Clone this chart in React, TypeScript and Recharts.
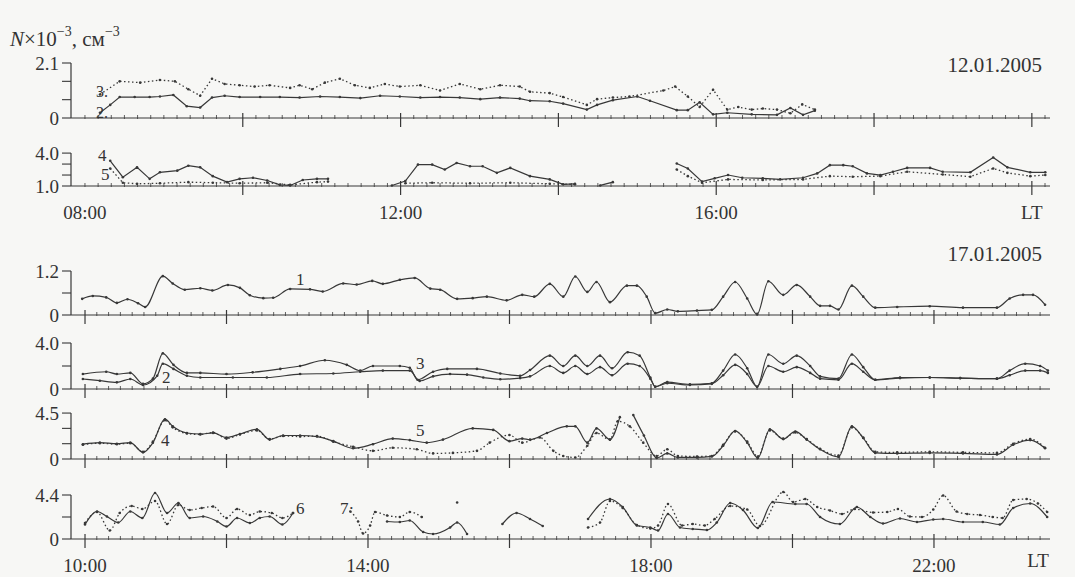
import React from 'react';
import { LineChart, Line, XAxis, YAxis, ReferenceLine } from 'recharts';

const INK = '#383838';
const FONT = '"Liberation Serif", "Times New Roman", serif';

// ---------- 12.01.2005 (hours LT) ----------
const tA2 = [8.19, 8.32, 8.44, 8.63, 8.82, 8.95, 9.12, 9.29, 9.46, 9.61, 9.77, 9.96, 10.22, 10.47, 10.72, 10.98, 11.23, 11.49, 11.74, 11.99, 12.25, 12.5, 12.75, 13.01, 13.26, 13.51, 13.64, 13.89, 14.06, 14.36, 14.49, 14.69, 15.0, 15.16, 15.5, 15.64, 15.79, 15.96, 16.14, 16.45, 16.77, 16.94, 17.1, 17.25];
const vA2 = [0.2, 0.5, 0.8, 0.8, 0.8, 0.82, 0.88, 0.45, 0.4, 0.78, 0.85, 0.8, 0.8, 0.8, 0.78, 0.82, 0.8, 0.76, 0.85, 0.82, 0.78, 0.8, 0.78, 0.72, 0.78, 0.74, 0.66, 0.64, 0.55, 0.32, 0.5, 0.68, 0.82, 0.66, 0.3, 0.3, 0.6, 0.14, 0.2, 0.14, 0.12, 0.38, 0.12, 0.28];

const tA3 = [8.19, 8.44, 8.7, 8.95, 9.14, 9.31, 9.46, 9.61, 9.77, 9.96, 10.15, 10.34, 10.6, 10.72, 10.88, 11.04, 11.23, 11.42, 11.61, 11.8, 11.99, 12.25, 12.5, 12.75, 13.01, 13.26, 13.51, 13.64, 13.89, 14.06, 14.36, 14.49, 14.69, 14.9, 15.33, 15.48, 15.64, 15.79, 15.96, 16.14, 16.28, 16.45, 16.59, 16.77, 16.94, 17.09, 17.25];
const vA3 = [0.9, 1.4, 1.35, 1.45, 1.4, 1.1, 0.85, 1.5, 1.3, 1.25, 1.2, 1.25, 1.15, 1.25, 1.1, 1.35, 1.5, 1.25, 1.15, 1.3, 1.2, 1.25, 1.05, 1.3, 1.1, 1.25, 1.2, 1.0, 0.95, 0.8, 0.5, 0.72, 0.78, 0.82, 1.05, 1.2, 0.82, 0.42, 1.08, 0.32, 0.42, 0.32, 0.36, 0.32, 0.18, 0.52, 0.32];

const tB4 = [8.32, 8.48, 8.66, 8.82, 8.95, 9.17, 9.31, 9.46, 9.62, 9.8, 9.96, 10.13, 10.31, 10.47, 10.6, 10.76, 10.94, 11.08, 11.5, 11.89, 12.06, 12.22, 12.4, 12.56, 12.71, 12.88, 13.04, 13.22, 13.39, 13.64, 13.89, 14.06, 14.21, 14.4, 14.53, 14.69, 15.1, 15.5, 15.64, 15.82, 15.98, 16.15, 16.33, 16.59, 16.81, 17.1, 17.28, 17.44, 17.61, 17.73, 17.91, 18.08, 18.24, 18.42, 18.71, 18.87, 19.22, 19.51, 19.69, 19.98, 20.17];
const vB4 = [3.3, 1.8, 2.7, 1.65, 2.25, 2.4, 2.85, 2.7, 1.9, 1.35, 1.65, 1.75, 1.5, 1.1, 1.05, 1.55, 1.65, 1.65, null, 1.05, 1.45, 2.95, 2.95, 2.5, 3.1, 2.8, 2.8, 2.2, 2.65, 1.9, 1.6, 1.15, 1.2, null, 1.05, 1.35, null, 3.05, 2.6, 1.4, 1.7, 2.0, 1.75, 1.7, 1.6, 1.75, 2.15, 2.9, 2.9, 2.8, 2.15, 2.0, 2.3, 2.65, 2.65, 2.3, 2.25, 3.6, 2.7, 2.25, 2.25];

const tB5 = [8.32, 8.48, 8.66, 8.95, 9.31, 9.62, 9.96, 10.31, 10.6, 10.94, 11.08, 11.5, 12.06, 12.4, 12.88, 13.39, 13.89, 14.21, 14.6, 15.1, 15.5, 15.64, 15.82, 16.15, 16.59, 17.1, 17.44, 17.73, 18.08, 18.42, 18.87, 19.22, 19.51, 19.69, 19.98, 20.17];
const vB5 = [2.6, 1.3, 1.2, 1.25, 1.35, 1.3, 1.25, 1.3, 1.1, 1.35, 1.4, null, 1.25, 1.3, 1.25, 1.3, 1.2, 1.15, null, null, 2.5, 1.9, 1.3, 1.6, 1.55, 1.6, 1.9, 1.85, 1.9, 2.3, 2.05, 1.85, 2.6, 2.2, 1.9, 2.0];

// ---------- 17.01.2005 (hours LT) ----------
const t1 = [9.96, 10.11, 10.3, 10.45, 10.6, 10.75, 10.85, 11.1, 11.24, 11.41, 11.63, 11.8, 12.02, 12.19, 12.33, 12.52, 12.66, 12.9, 13.18, 13.36, 13.65, 13.84, 14.06, 14.21, 14.45, 14.66, 14.88, 15.02, 15.26, 15.48, 15.68, 15.96, 16.18, 16.35, 16.57, 16.76, 16.93, 17.1, 17.23, 17.42, 17.66, 17.8, 17.94, 18.06, 18.23, 18.38, 18.65, 18.86, 19.02, 19.19, 19.36, 19.5, 19.66, 19.87, 20.06, 20.25, 20.39, 20.53, 20.65, 20.84, 21.0, 21.17, 21.48, 21.94, 22.41, 22.89, 23.07, 23.26, 23.4, 23.57];
const v1 = [0.44, 0.52, 0.48, 0.33, 0.43, 0.32, 0.22, 1.06, 0.86, 0.69, 0.73, 0.67, 0.82, 0.74, 0.54, 0.46, 0.47, 0.71, 0.7, 0.64, 0.86, 0.83, 0.93, 0.85, 0.96, 1.01, 0.72, 0.69, 0.44, 0.46, 0.5, 0.4, 0.55, 0.5, 0.85, 0.5, 1.05, 0.63, 0.9, 0.35, 0.8, 0.8, 0.5, 0.05, 0.15, 0.1, 0.12, 0.14, 0.5, 0.9, 0.45, 0.02, 0.92, 0.55, 0.82, 0.5, 0.25, 0.25, 0.15, 0.8, 0.5, 0.2, 0.22, 0.24, 0.2, 0.2, 0.45, 0.55, 0.55, 0.28];

const t2 = [9.97, 10.21, 10.45, 10.64, 10.82, 11.02, 11.1, 11.25, 11.44, 11.63, 12.09, 12.57, 13.04, 13.51, 13.89, 14.21, 14.59, 14.73, 14.92, 15.16, 15.4, 15.63, 15.87, 16.15, 16.29, 16.57, 16.76, 16.93, 17.1, 17.28, 17.45, 17.67, 17.84, 17.99, 18.06, 18.23, 18.55, 18.86, 19.02, 19.19, 19.36, 19.5, 19.66, 19.87, 20.06, 20.25, 20.39, 20.65, 20.84, 21.0, 21.17, 21.52, 21.94, 22.37, 22.89, 23.07, 23.29, 23.5, 23.61];
const v2 = [0.87, 0.72, 0.58, 0.87, 0.35, 1.15, 2.2, 1.75, 1.15, 1.0, 1.0, 1.0, 1.3, 1.35, 1.5, 1.6, 1.6, 0.7, 1.1, 1.3, 1.25, 1.0, 0.85, 0.95, 1.1, 2.0, 1.4, 2.0, 1.3, 1.9, 1.2, 2.2, 2.0, 0.9, 0.2, 0.5, 0.35, 0.45, 1.2, 2.1, 1.3, 0.2, 2.0, 1.5, 1.9, 1.4, 0.9, 0.8, 2.2, 1.5, 0.8, 0.95, 1.0, 0.95, 0.9, 1.2, 1.6, 1.6, 1.4];

const t3 = [9.97, 10.3, 10.45, 10.64, 10.82, 10.96, 11.1, 11.25, 11.44, 11.63, 12.0, 12.37, 12.76, 13.04, 13.39, 13.7, 13.89, 14.07, 14.45, 14.59, 14.7, 14.92, 15.12, 15.54, 15.87, 16.15, 16.29, 16.57, 16.76, 16.93, 17.1, 17.28, 17.45, 17.67, 17.84, 17.99, 18.06, 18.23, 18.55, 18.86, 19.02, 19.19, 19.36, 19.5, 19.66, 19.87, 20.06, 20.25, 20.39, 20.65, 20.84, 21.0, 21.17, 21.52, 21.94, 22.37, 22.89, 23.07, 23.29, 23.5, 23.61];
const v3 = [1.3, 1.5, 1.3, 1.4, 0.45, 0.9, 3.1, 2.1, 1.4, 1.4, 1.3, 1.45, 1.75, 2.0, 2.5, 2.1, 1.6, 2.0, 2.0, 1.85, 0.8, 1.5, 1.75, 1.75, 1.35, 1.15, 1.65, 2.9, 2.0, 2.9, 2.0, 2.9, 1.8, 3.2, 2.9, 1.0, 0.2, 0.6, 0.4, 0.5, 1.6, 3.0, 1.8, 0.2, 3.0, 2.2, 2.9, 2.0, 1.1, 0.9, 3.0, 1.9, 0.8, 1.0, 1.0, 0.95, 0.9, 1.6, 2.2, 2.0, 1.6];

const t4 = [9.97, 10.21, 10.45, 10.64, 10.82, 10.96, 11.13, 11.24, 11.44, 11.63, 11.81, 12.0, 12.19, 12.43, 12.61, 12.8, 13.04, 13.28, 13.51, 13.79, 14.07, 14.35, 14.59, 14.83, 15.06, 15.48, 15.77, 16.0, 16.18, 16.29, 16.53, 16.81, 16.93, 17.1, 17.23, 17.42, 17.56, 17.66, 17.75, 17.9, 18.08, 18.23, 18.38, 18.65, 18.86, 19.02, 19.19, 19.36, 19.51, 19.68, 19.87, 20.04, 20.2, 20.39, 20.65, 20.84, 21.0, 21.17, 21.48, 21.94, 22.41, 22.89, 23.12, 23.36, 23.57];
const v4 = [1.45, 1.6, 1.5, 1.6, 0.65, 1.6, 3.9, 3.2, 2.55, 2.45, 2.55, 2.1, 2.45, 2.9, 1.9, 2.3, 2.3, 2.2, 1.75, 1.05, 1.45, 2.0, 1.85, 1.6, 1.9, 3.0, 2.85, 1.75, 2.0, 1.9, 2.55, 3.2, 3.2, 1.6, 3.0, 1.9, 4.1, null, 4.3, 2.3, 0.1, 0.55, 0.15, 0.15, 0.25, 1.3, 2.75, 1.6, 0.1, 2.9, 1.95, 2.7, 1.9, 0.95, 0.2, 3.2, 2.05, 0.6, 0.55, 0.6, 0.55, 0.45, 1.4, 1.85, 1.05];

const t5 = [9.97, 10.21, 10.45, 10.64, 10.82, 10.96, 11.13, 11.24, 11.44, 11.63, 11.81, 12.0, 12.19, 12.43, 12.61, 12.8, 13.04, 13.28, 13.51, 13.79, 14.07, 14.35, 14.69, 14.92, 15.2, 15.54, 15.72, 16.0, 16.18, 16.43, 16.62, 16.76, 16.93, 17.1, 17.23, 17.42, 17.53, 17.7, 17.89, 18.08, 18.23, 18.38, 18.65, 18.86, 19.02, 19.19, 19.36, 19.51, 19.68, 19.87, 20.04, 20.2, 20.39, 20.65, 20.84, 21.0, 21.17, 21.48, 21.94, 22.41, 22.89, 23.12, 23.36, 23.57];
const v5 = [1.4, 1.55, 1.45, 1.55, 0.7, 1.7, 3.8, 3.1, 2.5, 2.4, 2.6, 2.0, 2.4, 2.8, 1.95, 2.25, 2.2, 2.25, 1.7, 1.2, 0.8, 1.1, 0.95, 0.55, 0.6, 0.8, 1.6, 2.35, 1.6, 2.1, 0.8, 0.3, 0.15, 1.3, 2.55, 1.9, 3.7, 3.2, 1.6, 0.3, 0.95, 0.3, 0.25, 0.3, 1.4, 2.7, 1.7, 0.25, 2.8, 2.0, 2.6, 1.95, 1.0, 0.35, 3.1, 2.1, 0.7, 0.65, 0.7, 0.65, 0.6, 1.5, 1.95, 1.1];

const t6 = [10.0, 10.17, 10.31, 10.47, 10.64, 10.81, 10.99, 11.16, 11.32, 11.48, 11.67, 11.87, 12.0, 12.15, 12.33, 12.47, 12.61, 12.79, 12.94, 13.5, 14.27, 14.45, 14.59, 14.78, 14.92, 15.16, 15.26, 15.4, 15.7, 15.9, 16.1, 16.29, 16.47, 16.8, 17.11, 17.42, 17.6, 17.8, 17.99, 18.1, 18.24, 18.41, 18.59, 18.79, 18.93, 19.12, 19.3, 19.51, 19.72, 20.04, 20.2, 20.39, 20.67, 20.91, 21.1, 21.28, 21.52, 21.76, 21.99, 22.13, 22.41, 22.69, 22.93, 23.12, 23.36, 23.6];
const v6 = [1.45, 2.75, 2.25, 1.65, 2.75, 2.1, 4.6, 2.6, 3.6, 2.1, 2.25, 1.75, 1.25, 2.1, 1.6, 2.1, 2.25, 1.45, 2.6, null, 1.75, 1.7, 1.85, 0.7, 0.5, 1.15, 1.65, 0.5, null, 1.5, 2.6, 2.0, 1.3, null, 2.0, 4.0, 3.2, 1.35, 1.15, 0.85, 2.5, 1.15, 1.0, 0.9, 1.65, 3.6, 2.9, 1.1, 3.7, 3.5, 3.5, 2.2, 1.5, 3.2, 2.2, 1.55, 2.05, 1.7, 1.95, 2.0, 1.7, 1.7, 1.45, 3.1, 3.55, 2.2];

const t7 = [10.0, 10.17, 10.35, 10.49, 10.66, 10.81, 10.99, 11.16, 11.32, 11.48, 11.65, 11.81, 12.0, 12.15, 12.33, 12.47, 12.64, 12.79, 12.94, 13.3, 13.75, 13.86, 13.93, 14.03, 14.1, 14.27, 14.45, 14.59, 14.76, 15.0, 15.26, 15.5, 17.11, 17.28, 17.42, 17.6, 17.8, 17.99, 18.1, 18.24, 18.44, 18.59, 18.76, 18.9, 19.12, 19.36, 19.54, 19.87, 20.01, 20.18, 20.35, 20.53, 20.7, 20.88, 21.14, 21.34, 21.49, 21.66, 21.83, 21.99, 22.13, 22.32, 22.47, 22.65, 22.83, 22.97, 23.12, 23.31, 23.47, 23.6];
const v7 = [1.6, 2.7, 0.85, 2.6, 3.3, 3.0, 3.8, 1.5, 3.4, 2.9, 3.1, 3.25, 2.1, 3.0, 2.4, 2.75, 2.6, 2.1, 2.6, null, 2.75, 1.75, 0.55, 1.35, 2.7, 2.35, 2.2, 2.7, 2.2, null, 3.65, null, 1.15, 1.65, 3.8, 3.1, 1.4, 1.05, 1.35, 3.5, 1.35, 1.5, 1.35, 2.0, 3.3, 2.95, 1.3, 4.7, 3.7, 4.0, 3.2, 2.85, 2.5, 3.0, 2.65, 2.7, 3.0, 2.25, 2.2, 2.95, 4.35, 2.75, 2.5, 2.4, 2.2, 2.1, 3.9, 4.0, 3.55, 2.7];

// axis tick values
const topMajors = [10, 12, 14, 16, 18, 20];
const topLabels: [number, string][] = [[8, '08:00'], [12, '12:00'], [16, '16:00'], [20, 'LT']];
const botMajors = [10, 12, 14, 16, 18, 20, 22];
const botLabels: [number, string][] = [[10, '10:00'], [14, '14:00'], [18, '18:00'], [22, '22:00']];

const zip = (t: number[], v: (number | null)[]) => t.map((x, i) => ({ t: x, v: v[i] }));

const tenMinuteTicks = (h0: number, h1: number) => {
  const out: number[] = [];
  for (let m = Math.round(h0 * 60); m <= h1 * 60; m += 10) out.push(m / 60);
  return out;
};

type Series = { t: number[]; v: (number | null)[]; dotted?: boolean };

interface PanelProps {
  top: number;
  bottom: number;
  yDomain: [number, number];
  yTicks: number[];
  yLabels: [number, string][];
  xDomain: [number, number];
  xTicks: number[];
  majors: number[];
  labels: [number, string][];
  showLabels: boolean;
  curve: 'linear' | 'monotone';
  series: Series[];
}

const PAD = 14; // room above the plot so the top tick label is not clipped

function Panel(p: PanelProps) {
  const axisH = p.showLabels ? 44 : 14;
  const height = p.bottom - p.top + axisH + PAD;
  const yTop = p.yLabels[p.yLabels.length - 1][0];

  const xTick = (props: any) => {
    const { x, y, payload } = props;
    const val = payload.value as number;
    const major = p.majors.some((m) => Math.abs(m - val) < 1e-6);
    const lab = p.labels.find((l) => Math.abs(l[0] - val) < 1e-6);
    return (
      <g>
        {major ? (
          <line x1={x} x2={x} y1={y - 5} y2={y + 9} stroke={INK} strokeWidth={1.2} />
        ) : (
          <line x1={x} x2={x} y1={y - 3} y2={y + 1} stroke={INK} strokeWidth={0.8} />
        )}
        {p.showLabels && lab && (
          <text x={x} y={y + 33} textAnchor="middle" fontSize={19} fontFamily={FONT} fill="#333">
            {lab[1]}
          </text>
        )}
      </g>
    );
  };

  return (
    <div style={{ position: 'absolute', left: 0, top: p.top - PAD }}>
      <LineChart width={1075} height={height} margin={{ top: PAD, right: 25, bottom: 0, left: 0 }}>
        <XAxis
          type="number"
          dataKey="t"
          domain={p.xDomain}
          ticks={p.xTicks}
          interval={0}
          tickSize={0}
          tickMargin={0}
          tickLine={false}
          axisLine={{ stroke: INK, strokeWidth: 1.2 }}
          height={axisH}
          tick={xTick}
          allowDataOverflow
        />
        <YAxis
          type="number"
          domain={p.yDomain}
          ticks={p.yTicks}
          interval={0}
          width={71}
          tickSize={9}
          tickMargin={3}
          axisLine={false}
          tickLine={{ stroke: INK, strokeWidth: 1.1 }}
          tick={{ fontSize: 19, fontFamily: FONT, fill: '#333' }}
          tickFormatter={(v: number) => {
            const lab = p.yLabels.find((l) => Math.abs(l[0] - v) < 1e-6);
            return lab ? lab[1] : '';
          }}
        />
        <ReferenceLine
          segment={[
            { x: p.xDomain[0], y: p.yDomain[0] },
            { x: p.xDomain[0], y: yTop },
          ]}
          stroke={INK}
          strokeWidth={1.2}
          ifOverflow="visible"
        />
        {p.series.map((s, i) => (
          <Line
            key={i}
            data={zip(s.t, s.v)}
            dataKey="v"
            type={p.curve}
            stroke={INK}
            strokeWidth={s.dotted ? 1.3 : 1.2}
            strokeDasharray={s.dotted ? '1.5 2.5' : undefined}
            dot={{ r: 1.3, fill: INK, stroke: 'none' }}
            activeDot={false}
            connectNulls={false}
            isAnimationActive={false}
          />
        ))}
      </LineChart>
    </div>
  );
}

const TOP_X: [number, number] = [7.823, 20.23];
const BOT_X: [number, number] = [9.802, 23.64];
const topTicks = tenMinuteTicks(8, 20.2);
const botTicks = tenMinuteTicks(10, 23.6);

export default function App() {
  const top = { xDomain: TOP_X, xTicks: topTicks, majors: topMajors, labels: topLabels, curve: 'linear' as const };
  const bot = { xDomain: BOT_X, xTicks: botTicks, majors: botMajors, labels: botLabels, curve: 'monotone' as const };

  return (
    <div
      style={{
        position: 'absolute',
        left: 0,
        top: 0,
        width: 1075,
        height: 577,
        overflow: 'hidden',
        background: '#f7f7f5',
        fontFamily: FONT,
      }}
    >
      <Panel {...top} top={63} bottom={118} yDomain={[0, 2.1]} yTicks={[0, 0.7, 1.4, 2.1]}
        yLabels={[[0, '0'], [2.1, '2.1']]} showLabels={false}
        series={[{ t: tA2, v: vA2 }, { t: tA3, v: vA3, dotted: true }]} />
      <Panel {...top} top={152} bottom={186} yDomain={[1, 4.1]} yTicks={[1, 2, 3, 4]}
        yLabels={[[1, '1.0'], [4, '4.0']]} showLabels
        series={[{ t: tB4, v: vB4 }, { t: tB5, v: vB5, dotted: true }]} />

      <Panel {...bot} top={271} bottom={315} yDomain={[0, 1.2]} yTicks={[0, 0.6, 1.2]}
        yLabels={[[0, '0'], [1.2, '1.2']]} showLabels={false}
        series={[{ t: t1, v: v1 }]} />
      <Panel {...bot} top={343} bottom={389} yDomain={[0, 4]} yTicks={[0, 2, 4]}
        yLabels={[[0, '0'], [4, '4.0']]} showLabels={false}
        series={[{ t: t2, v: v2 }, { t: t3, v: v3 }]} />
      <Panel {...bot} top={410} bottom={459} yDomain={[0, 4.8]} yTicks={[0, 1.5, 3, 4.5]}
        yLabels={[[0, '0'], [4.5, '4.5']]} showLabels={false}
        series={[{ t: t4, v: v4 }, { t: t5, v: v5, dotted: true }]} />
      <Panel {...bot} top={491} bottom={539} yDomain={[0, 4.8]} yTicks={[0, 2.2, 4.4]}
        yLabels={[[0, '0'], [4.4, '4.4']]} showLabels
        series={[{ t: t6, v: v6 }, { t: t7, v: v7, dotted: true }]} />

      <svg width={1075} height={577} style={{ position: 'absolute', left: 0, top: 0, pointerEvents: 'none' }}>
        <g fontFamily={FONT} fill="#333">
          <text x={10} y={46} fontSize={21}>
            <tspan fontStyle="italic">N</tspan>
            <tspan>×10</tspan>
            <tspan dy={-10} fontSize={14}>−3</tspan>
            <tspan dy={10}>, см</tspan>
            <tspan dy={-10} fontSize={14}>−3</tspan>
          </text>
          <text x={1042} y={65} fontSize={21} textAnchor="end" dominantBaseline="central">12.01.2005</text>
          <text x={1042} y={254} fontSize={21} textAnchor="end" dominantBaseline="central">17.01.2005</text>
          <text x={1038} y={560} fontSize={19} textAnchor="middle" dominantBaseline="central">LT</text>

          <text x={96} y={91} fontSize={16} dominantBaseline="central">3.</text>
          <text x={96} y={112} fontSize={16} dominantBaseline="central">2.</text>
          <text x={98} y={155} fontSize={17} dominantBaseline="central">4</text>
          <text x={101} y={174} fontSize={17} dominantBaseline="central">5</text>

          <text x={296} y={279} fontSize={17} dominantBaseline="central">1</text>
          <text x={162} y={377} fontSize={17} dominantBaseline="central">2</text>
          <text x={416} y={363} fontSize={17} dominantBaseline="central">3</text>
          <text x={161} y={440} fontSize={17} dominantBaseline="central">4</text>
          <text x={416} y={430} fontSize={17} dominantBaseline="central">5</text>
          <text x={296} y={508} fontSize={17} dominantBaseline="central">6</text>
          <text x={340} y={508} fontSize={17} dominantBaseline="central">7·</text>
        </g>
      </svg>
    </div>
  );
}
